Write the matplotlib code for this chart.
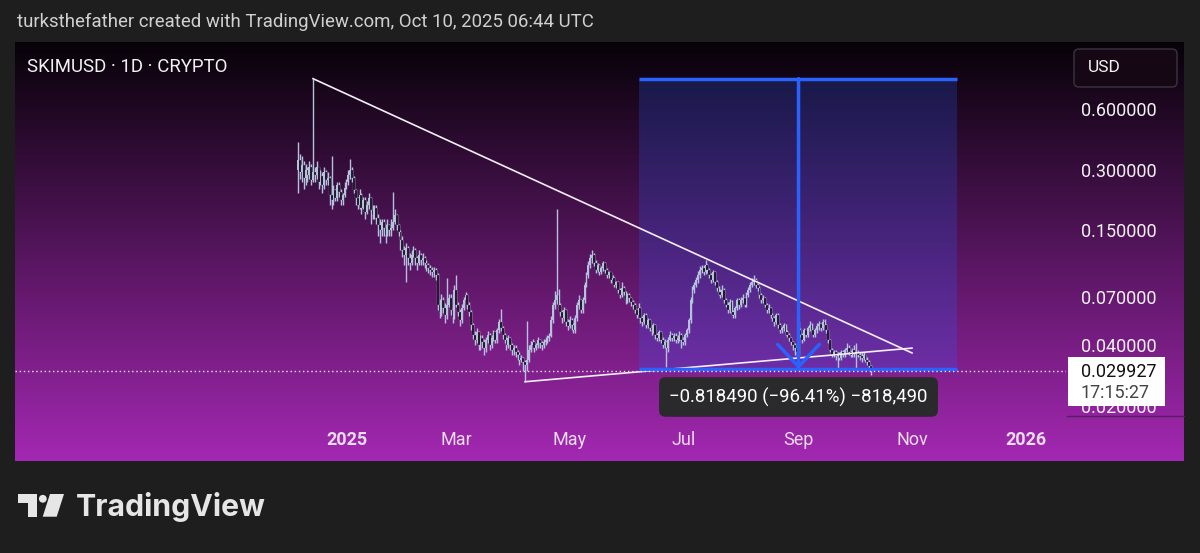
import numpy as np
import pandas as pd
import matplotlib
matplotlib.use("Agg")
import matplotlib.pyplot as plt
import matplotlib.dates as mdates
from matplotlib.patches import Rectangle, FancyBboxPatch, Polygon, Circle

plt.rcParams["font.family"] = ["Roboto", "DejaVu Sans"]

# SKIMUSD daily candles, 6 Dec 2024 .. 10 Oct 2025
first_day = "2024-12-06"
first_open = 0.300
closes = [
    # Dec 2024
    0.335, 0.293, 0.316, 0.272, 0.300, 0.282, 0.307, 0.266, 0.293,
    0.282, 0.307, 0.260, 0.279, 0.251, 0.293, 0.266, 0.272,
    0.224, 0.212, 0.237, 0.216, 0.251, 0.232, 0.212, 0.224, 0.243,
    # Jan 2025
    0.260, 0.282, 0.300, 0.272, 0.237, 0.216,
    0.200, 0.224, 0.193, 0.212, 0.185, 0.200, 0.216, 0.189, 0.178, 0.193,
    0.172, 0.159, 0.150, 0.164, 0.153, 0.142, 0.159, 0.150, 0.153, 0.164,
    0.178, 0.159, 0.147, 0.134, 0.119,
    # Feb
    0.113, 0.122, 0.109, 0.103, 0.113, 0.119, 0.109, 0.103, 0.113, 0.106,
    0.109, 0.103, 0.100, 0.0968, 0.0948, 0.0927, 0.0948, 0.0896,
    0.0635, 0.0585, 0.0672, 0.0614, 0.0567, 0.0635, 0.0689,
    0.0599, 0.0548, 0.0753,
    # Mar
    0.0635, 0.0585, 0.0534, 0.0614, 0.0672, 0.0713, 0.0635,
    0.0585, 0.0505, 0.0450, 0.0425, 0.0466, 0.0401, 0.0435, 0.0415,
    0.0388, 0.0425, 0.0450, 0.0401, 0.0435, 0.0466, 0.0425, 0.0476, 0.0522, 0.0488,
    0.0450, 0.0425, 0.0401, 0.0435, 0.0401, 0.0379,
    # Apr
    0.0388, 0.0370, 0.0358, 0.0338, 0.0346, 0.0330, 0.0320,
    0.0338, 0.0379, 0.0401, 0.0415, 0.0388, 0.0401, 0.0425, 0.0410,
    0.0401, 0.0415, 0.0425, 0.0435, 0.0445, 0.0534, 0.0635, 0.0672,
    0.0713, 0.0635, 0.0585, 0.0548, 0.0599, 0.0522, 0.0500,
    # May
    0.0534, 0.0505, 0.0476,
    0.0548, 0.0635, 0.0672, 0.0599, 0.0672,
    0.0799, 0.0896, 0.100, 0.109, 0.113, 0.103,
    0.0948, 0.100, 0.0927, 0.0968, 0.103, 0.0948, 0.0896, 0.0927, 0.0845, 0.0866,
    0.0799, 0.0826, 0.0753, 0.0713, 0.0772, 0.0736, 0.0672,
    # Jun
    0.0713, 0.0689, 0.0657,
    0.0635, 0.0599, 0.0567, 0.0614, 0.0548, 0.0522, 0.0567, 0.0505, 0.0534, 0.0488,
    0.0476, 0.0505, 0.0450, 0.0435, 0.0466, 0.0425, 0.0401, 0.0415, 0.0388,
    0.0425, 0.0450, 0.0435, 0.0445, 0.0425, 0.0435, 0.0450, 0.0425,
    # Jul
    0.0415,
    0.0450, 0.0476, 0.0534, 0.0672, 0.0753,
    0.0799, 0.0845, 0.0896, 0.0948, 0.0968,
    0.0927, 0.100, 0.0948, 0.0896, 0.0845, 0.0927, 0.0826, 0.0772,
    0.0736, 0.0713, 0.0753, 0.0672, 0.0635, 0.0599, 0.0657, 0.0585, 0.0567, 0.0614, 0.0672,
    0.0635,
    # Aug
    0.0672, 0.0689, 0.0635, 0.0713, 0.0753, 0.0799, 0.0826,
    0.0845, 0.0799, 0.0772, 0.0713, 0.0672, 0.0689, 0.0635, 0.0599, 0.0614, 0.0567,
    0.0548, 0.0522, 0.0567, 0.0505, 0.0476, 0.0488, 0.0505, 0.0466, 0.0450, 0.0435,
    0.0415, 0.0401, 0.0388, 0.0370,
    # Sep
    0.0476, 0.0450, 0.0425, 0.0476, 0.0450, 0.0488, 0.0505, 0.0476,
    0.0450, 0.0476, 0.0500, 0.0510, 0.0488, 0.0522, 0.0505, 0.0476,
    0.0425, 0.0379, 0.0358, 0.0370,
    0.0354, 0.0362, 0.0346, 0.0370, 0.0358, 0.0379, 0.0388, 0.0370, 0.0358, 0.0379,
    # Oct
    0.0362, 0.0370, 0.0358, 0.0354, 0.0346, 0.0358, 0.0338, 0.0330, 0.0316, 0.029927,
]
highs = [
    0.41, 0.36, 0.35, 0.33, 0.32, 0.31, 0.33, 0.32, 0.849,
    0.31, 0.33, 0.31, 0.30, 0.29, 0.31, 0.30, 0.29,
    0.28, 0.35, 0.25, 0.24, 0.26, 0.26, 0.24, 0.23, 0.26,
    0.27, 0.30, 0.34, 0.31, 0.28, 0.24, 0.22, 0.24, 0.23, 0.22,
    0.22, 0.21, 0.23, 0.22, 0.20, 0.20, 0.20, 0.18, 0.17, 0.17,
    0.17, 0.16, 0.17, 0.16, 0.17, 0.232, 0.19, 0.18, 0.16, 0.15, 0.14,
    0.125, 0.13, 0.125, 0.115, 0.12, 0.125, 0.122, 0.112, 0.12, 0.115,
    0.115, 0.112, 0.106, 0.103, 0.100, 0.098, 0.098, 0.097,
    0.092, 0.068, 0.072, 0.070, 0.065, 0.087, 0.072,
    0.072, 0.063, 0.080,
    0.0896, 0.066, 0.061, 0.064, 0.070, 0.074, 0.072,
    0.066, 0.060, 0.052, 0.047, 0.049, 0.047, 0.045, 0.045,
    0.043, 0.044, 0.047, 0.046, 0.045, 0.048, 0.047, 0.049, 0.054, 0.061,
    0.050, 0.046, 0.044, 0.045, 0.044, 0.041,
    0.040, 0.040, 0.038, 0.037, 0.036, 0.035, 0.034,
    0.053, 0.040, 0.042, 0.043, 0.042, 0.041, 0.044, 0.043,
    0.042, 0.043, 0.044, 0.045, 0.046, 0.056, 0.066, 0.075,
    0.19, 0.076, 0.065, 0.060, 0.062, 0.061, 0.054,
    0.056, 0.055, 0.052,
    0.057, 0.066, 0.071, 0.068, 0.070,
    0.083, 0.093, 0.105, 0.114, 0.119, 0.115,
    0.106, 0.103, 0.102, 0.099, 0.105, 0.104, 0.097, 0.094, 0.093, 0.090,
    0.088, 0.084, 0.084, 0.077, 0.083, 0.079, 0.075,
    0.073, 0.073, 0.070,
    0.067, 0.065, 0.061, 0.065, 0.062, 0.056, 0.058, 0.058, 0.055, 0.054,
    0.050, 0.052, 0.051, 0.046, 0.048, 0.047, 0.044, 0.043, 0.042,
    0.044, 0.047, 0.046, 0.046, 0.046, 0.045, 0.047, 0.046,
    0.044,
    0.046, 0.049, 0.055, 0.070, 0.079,
    0.083, 0.088, 0.094, 0.099, 0.101,
    0.100, 0.106, 0.102, 0.097, 0.092, 0.095, 0.094, 0.085,
    0.079, 0.076, 0.080, 0.077, 0.069, 0.066, 0.068, 0.067, 0.060, 0.063, 0.069,
    0.069,
    0.070, 0.072, 0.070, 0.074, 0.078, 0.083, 0.087,
    0.090, 0.087, 0.082, 0.079, 0.073, 0.071, 0.070, 0.065, 0.064, 0.062,
    0.058, 0.056, 0.058, 0.058, 0.052, 0.050, 0.052, 0.051, 0.048, 0.046,
    0.044, 0.042, 0.041, 0.040,
    0.053, 0.049, 0.046, 0.049, 0.048, 0.050, 0.053, 0.052,
    0.048, 0.049, 0.052, 0.053, 0.052, 0.054, 0.054, 0.051,
    0.048, 0.043, 0.039, 0.038,
    0.038, 0.037, 0.037, 0.038, 0.038, 0.039, 0.041, 0.040, 0.038, 0.039,
    0.040, 0.041, 0.038, 0.037, 0.037, 0.037, 0.036, 0.035, 0.034, 0.032,
]
lows = [
    0.23, 0.27, 0.26, 0.24, 0.25, 0.26, 0.27, 0.25, 0.26,
    0.26, 0.27, 0.24, 0.25, 0.23, 0.24, 0.25, 0.25,
    0.20, 0.19, 0.20, 0.21, 0.21, 0.22, 0.20, 0.20, 0.22,
    0.24, 0.25, 0.27, 0.26, 0.23, 0.20, 0.19, 0.19, 0.18, 0.19,
    0.17, 0.18, 0.19, 0.16, 0.17, 0.17, 0.16, 0.14, 0.13, 0.14,
    0.14, 0.13, 0.14, 0.14, 0.14, 0.15, 0.16, 0.15, 0.14, 0.12, 0.11,
    0.10, 0.083, 0.10, 0.095, 0.10, 0.11, 0.10, 0.095, 0.10, 0.10,
    0.10, 0.097, 0.094, 0.092, 0.090, 0.088, 0.088, 0.085,
    0.060, 0.055, 0.056, 0.058, 0.052, 0.054, 0.062,
    0.057, 0.052, 0.054,
    0.062, 0.056, 0.050, 0.052, 0.060, 0.065, 0.061,
    0.056, 0.048, 0.043, 0.040, 0.041, 0.038, 0.038, 0.039,
    0.036, 0.037, 0.041, 0.038, 0.039, 0.042, 0.041, 0.041, 0.046, 0.047,
    0.043, 0.041, 0.038, 0.039, 0.038, 0.036,
    0.036, 0.035, 0.034, 0.032, 0.033, 0.030, 0.0264,
    0.030, 0.033, 0.037, 0.039, 0.037, 0.038, 0.039, 0.039,
    0.038, 0.039, 0.040, 0.041, 0.042, 0.044, 0.052, 0.061,
    0.064, 0.060, 0.056, 0.052, 0.053, 0.050, 0.048,
    0.049, 0.048, 0.046,
    0.046, 0.053, 0.061, 0.058, 0.058,
    0.065, 0.078, 0.087, 0.097, 0.103, 0.099,
    0.092, 0.093, 0.090, 0.091, 0.094, 0.092, 0.087, 0.087, 0.082, 0.082,
    0.078, 0.077, 0.073, 0.069, 0.070, 0.071, 0.064,
    0.065, 0.066, 0.063,
    0.061, 0.058, 0.055, 0.055, 0.052, 0.050, 0.051, 0.049, 0.049, 0.047,
    0.045, 0.046, 0.043, 0.042, 0.042, 0.041, 0.039, 0.039, 0.0313,
    0.037, 0.042, 0.042, 0.042, 0.041, 0.041, 0.042, 0.039,
    0.040,
    0.040, 0.044, 0.046, 0.052, 0.065,
    0.073, 0.078, 0.082, 0.087, 0.092,
    0.090, 0.091, 0.092, 0.087, 0.082, 0.083, 0.080, 0.075,
    0.071, 0.069, 0.070, 0.065, 0.062, 0.058, 0.058, 0.057, 0.055, 0.055, 0.060,
    0.061,
    0.062, 0.065, 0.062, 0.062, 0.070, 0.074, 0.078,
    0.080, 0.077, 0.075, 0.069, 0.065, 0.065, 0.062, 0.058, 0.058, 0.055,
    0.053, 0.050, 0.051, 0.049, 0.046, 0.046, 0.047, 0.045, 0.044, 0.042,
    0.040, 0.038, 0.036, 0.0354,
    0.036, 0.044, 0.041, 0.042, 0.044, 0.044, 0.047, 0.046,
    0.044, 0.044, 0.046, 0.048, 0.047, 0.048, 0.049, 0.046,
    0.041, 0.037, 0.035, 0.035,
    0.034, 0.031, 0.034, 0.034, 0.035, 0.035, 0.037, 0.036, 0.035, 0.035,
    0.035, 0.031, 0.035, 0.034, 0.033, 0.034, 0.033, 0.032, 0.031, 0.0285,
]

price_ticks = [0.6, 0.3, 0.15, 0.07, 0.04, 0.02]
time_ticks = ["2025-01-01", "2025-03-01", "2025-05-01", "2025-07-01",
              "2025-09-01", "2025-11-01", "2026-01-01"]
time_labels = ["2025", "Mar", "May", "Jul", "Sep", "Nov", "2026"]
view_dates = ["2024-07-06 19:00", "2026-01-22 19:00"]
view_prices = [0.01783, 1.292]

# drawings
upper_line_dates = ["2024-12-14", "2025-11-01"]
upper_line_prices = [0.849, 0.0367]
lower_line_dates = ["2025-04-07", "2025-11-01"]
lower_line_prices = [0.0264, 0.0388]
measure_dates = ["2025-06-07", "2025-11-25"]
measure_arrow_date = "2025-09-01"
measure_from = 0.848970
measure_to = 0.030480
countdown = "17:15:27"

dates = pd.date_range(first_day, periods=len(closes), freq="D")
x = mdates.date2num(dates)
c = np.array(closes)
o = np.concatenate([[first_open], c[:-1]])
h = np.maximum(np.array(highs), np.maximum(o, c))
l = np.minimum(np.array(lows), np.minimum(o, c))
up = c >= o
last_price = closes[-1]

W, H = 1200, 553
fig = plt.figure(figsize=(12, 5.53), dpi=100, facecolor="#1e1e1e")

# pixel-space layer for panel background, header and logo
deco = fig.add_axes([0, 0, 1, 1], zorder=0)
deco.axis("off")
grad = np.linspace(0, 1, 256)[:, None]
top_col = np.array([7, 2, 8]) / 255
bot_col = np.array([163, 40, 178]) / 255
img = top_col + grad[..., None] * (bot_col - top_col)
deco.imshow(img, extent=[15, 1184, 461, 42], aspect="auto", interpolation="bilinear")
deco.set_xlim(0, W)
deco.set_ylim(H, 0)

deco.text(17, 22, "turksthefather created with TradingView.com, Oct 10, 2025 06:44 UTC",
          color="#d0d0d0", fontsize=13.4, va="center", ha="left")
deco.text(27, 67, "SKIMUSD · 1D · CRYPTO", color="#f2f2f2", fontsize=13.4, va="center")

# TradingView logo
logo_col = "#e6e6e6"
deco.add_patch(Rectangle((18.3, 494), 18.4, 8.7, color=logo_col, lw=0))
deco.add_patch(Rectangle((28.3, 494), 8.4, 22.7, color=logo_col, lw=0))
deco.add_patch(Circle((42.8, 498.8), 3.9, color=logo_col, lw=0))
deco.add_patch(Polygon([[50, 494], [64, 494], [56.7, 516.7], [42.7, 516.7]], closed=True,
                       color=logo_col, lw=0))
deco.text(76, 507, "TradingView", color=logo_col, fontsize=21.8, fontweight="bold",
          family=["Inter", "DejaVu Sans"], va="center", ha="left")

# main price chart
ax = fig.add_axes([15 / W, 1 - 416 / H, 1051 / W, 374 / H], zorder=2)
ax.patch.set_alpha(0)
ax.set_yscale("log")
ax.set_xlim(mdates.date2num(pd.to_datetime(view_dates)))
ax.set_ylim(view_prices)

m0, m1 = mdates.date2num(pd.to_datetime(measure_dates))
ax.add_patch(Rectangle((m0, measure_to), m1 - m0, measure_from - measure_to,
                       facecolor="#2962ff", alpha=0.22, lw=0, zorder=1))

candle_col = "#b4c2de"
ax.vlines(x, l, h, color=candle_col, lw=1.0, zorder=3)
ax.bar(x[up], np.maximum(c[up] - o[up], 1e-5), bottom=o[up], width=1.0,
       color=candle_col, lw=0, zorder=4)
ax.bar(x[~up], np.maximum(o[~up] - c[~up], 1e-5), bottom=c[~up], width=1.0,
       color="#160819", edgecolor=candle_col, lw=0.15, zorder=4)

ax.plot(mdates.date2num(pd.to_datetime(upper_line_dates)), upper_line_prices,
        color="#f4eef6", lw=1.2, zorder=5)
ax.plot(mdates.date2num(pd.to_datetime(lower_line_dates)), lower_line_prices,
        color="#f4eef6", lw=1.2, zorder=5)

ax.hlines([measure_from, measure_to], m0, m1, color="#2962ff", lw=2.5, zorder=6)
xa = mdates.date2num(pd.Timestamp(measure_arrow_date))
ax.annotate("", xy=(xa, measure_to), xytext=(xa, measure_from),
            arrowprops=dict(arrowstyle="->,head_length=0.8,head_width=0.75",
                            color="#2962ff", lw=2.5, shrinkA=0, shrinkB=0,
                            mutation_scale=20), zorder=6)
change = measure_to - measure_from
label = f"{change:.6f} ({change / measure_from * 100:.2f}%) {round(change * 1e6):,}"
ax.annotate(label.replace("-", "\u2212"), xy=(xa, measure_to), xytext=(0, -20),
            textcoords="offset points", ha="center", va="center", color="white",
            fontsize=13.4, zorder=8,
            bbox=dict(boxstyle="round,pad=0.55,rounding_size=0.35", fc="#2a2a2c", ec="none"))

ax.axhline(last_price, color="#f0e6f2", lw=1, ls=(0, (1, 2)), zorder=7)

ax.set_yticks(price_ticks)
ax.set_yticklabels([f"{p:.6f}" for p in price_ticks])
ax.yaxis.set_minor_locator(matplotlib.ticker.NullLocator())
ax.yaxis.tick_right()
ax.tick_params(axis="y", length=0, pad=11, labelsize=13, labelcolor="#f2f2f2")
ax.set_xticks(mdates.date2num(pd.to_datetime(time_ticks)))
ax.set_xticklabels(time_labels)
ax.tick_params(axis="x", length=0, pad=11, labelsize=13, labelcolor="#eadcee")
for t in ax.get_xticklabels():
    if t.get_text().isdigit():
        t.set_fontweight("bold")
for s in ax.spines.values():
    s.set_visible(False)

# overlay layer: currency box and last-price label
top = fig.add_axes([0, 0, 1, 1], zorder=10)
top.set_xlim(0, W)
top.set_ylim(H, 0)
top.axis("off")
top.add_patch(FancyBboxPatch((1074, 49), 103, 38, boxstyle="round,pad=0,rounding_size=5",
                             fc="#150814", ec="#3a3440", lw=1))
top.text(1088, 68, "USD", color="#f2f2f2", fontsize=12.5, va="center")
top.plot([1067, 1184], [416, 416], color="#5a1a66", lw=1)
y_last = H - ax.transData.transform((x[-1], last_price))[1]
top.add_patch(Rectangle((1068, y_last - 14), 97, 49, fc="white", ec="none"))
top.text(1081, y_last + 1, f"{last_price:.6f}", color="#111111", fontsize=13, va="center")
top.text(1081, y_last + 22, countdown, color="#444444", fontsize=13, va="center")

fig.savefig("out.png", dpi=100, facecolor=fig.get_facecolor())
